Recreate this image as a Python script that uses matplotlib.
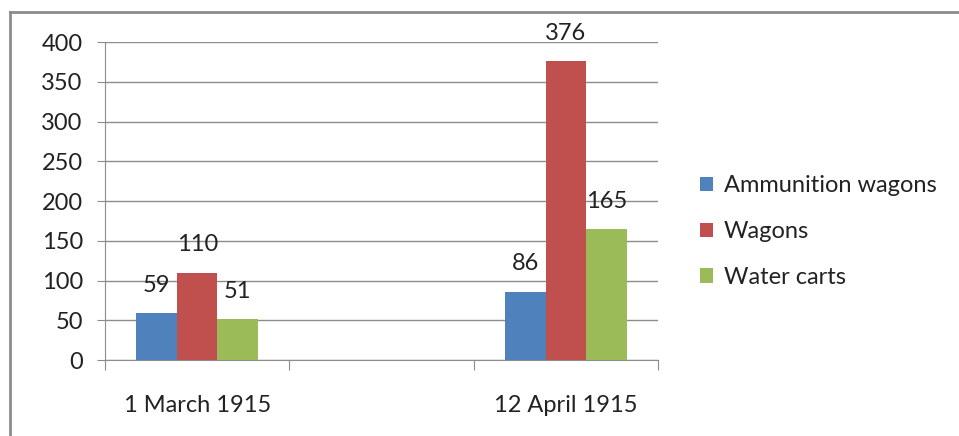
import matplotlib
matplotlib.use("Agg")
import matplotlib.pyplot as plt
from matplotlib.lines import Line2D
import numpy as np

categories = ["1 March 1915", "12 April 1915"]
series = ["Ammunition wagons", "Wagons", "Water carts"]
ammunition = [59, 86]
wagons = [110, 376]
water_carts = [51, 165]
colors = ["#4F81BD", "#C0504D", "#9BBB59"]

plt.rcParams['font.family'] = ['Lato', 'DejaVu Sans']
fs = 17

W, H = 959, 436
fig = plt.figure(figsize=(W / 100, H / 100), dpi=100)
ax = fig.add_axes([105 / W, 1 - 360 / H, 553 / W, 318 / H])

# category centres sit in the middle of the 1st and 3rd axis interval
pos = np.array([0.5, 2.5])
bw = 0.22
for i, (vals, name) in enumerate(zip([ammunition, wagons, water_carts], series)):
    x = pos + (i - 1) * bw
    ax.bar(x, vals, width=bw, color=colors[i], label=name, zorder=3)
    for xi, v in zip(x, vals):
        ax.annotate(str(v), (xi, v), xytext=(0, 20), textcoords="offset points",
                    ha="center", va="center", fontsize=fs, color="#222222", zorder=4)

ax.set_xlim(0, 3)
ax.set_ylim(0, 400)
ax.set_yticks(range(0, 401, 50))
ax.yaxis.grid(True, color="#8c8c8c", linewidth=1, zorder=0)
ax.set_xticks([0, 1, 2, 3])
ax.set_xticklabels([])
for xi, lab in zip(pos, categories):
    ax.annotate(lab, (xi, 0), xytext=(0, -33), textcoords="offset points",
                ha="center", va="center", fontsize=fs, color="#222222")

for s in ["top", "right"]:
    ax.spines[s].set_visible(False)
for s in ["left", "bottom"]:
    ax.spines[s].set_color("#8c8c8c")
ax.tick_params(axis="y", length=6, color="#8c8c8c", labelsize=fs, labelcolor="#222222", pad=10)
ax.tick_params(axis="x", length=7, color="#8c8c8c", direction="out")

leg = fig.legend(loc="upper left", bbox_to_anchor=(679 / W, 1 - 154 / H), frameon=False,
                 fontsize=fs, handlelength=0.55, handleheight=0.55, handletextpad=0.45,
                 labelspacing=1.05)
for t in leg.get_texts():
    t.set_color("#222222")

fig.add_artist(Line2D([10 / W, 1], [1 - 12 / H, 1 - 12 / H], color="#8c8c8c", linewidth=2))
fig.add_artist(Line2D([10 / W, 10 / W], [0, 1 - 12 / H], color="#8c8c8c", linewidth=2))

fig.savefig("out.png", dpi=100)
